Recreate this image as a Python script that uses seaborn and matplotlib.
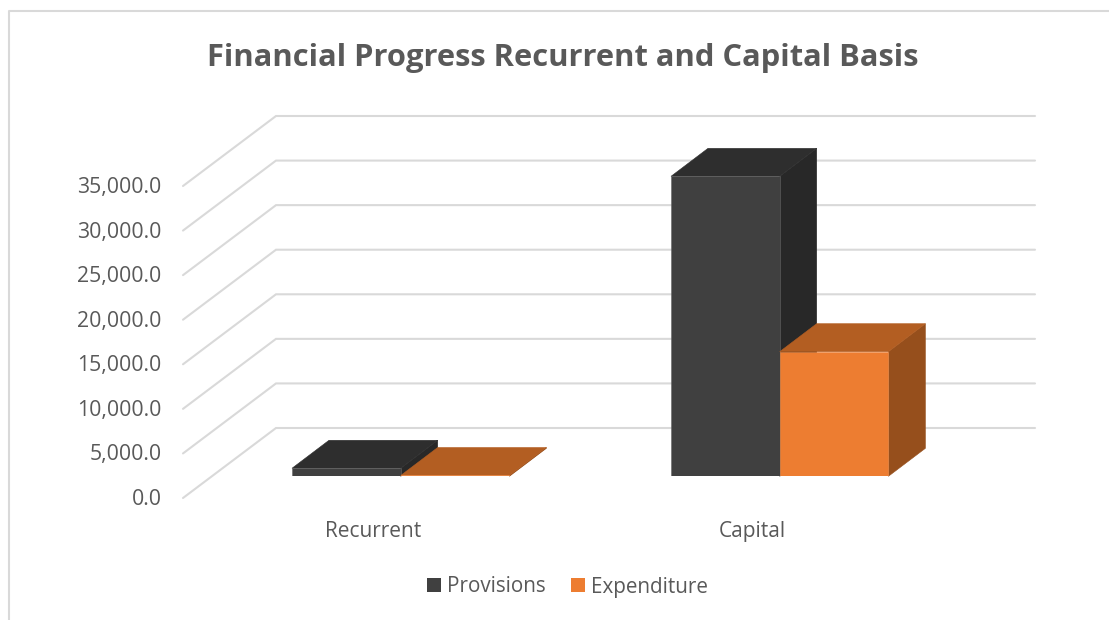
import matplotlib
matplotlib.use("Agg")
import matplotlib.pyplot as plt
from matplotlib.lines import Line2D
from matplotlib.patches import Polygon
from matplotlib.transforms import ScaledTranslation
import pandas as pd
import seaborn as sns

categories = ["Recurrent", "Capital"]
series_names = ["Provisions", "Expenditure"]
provisions = [900, 33650]
expenditure = [90, 13980]
y_ticks = [0, 5000, 10000, 15000, 20000, 25000, 30000, 35000]

W, H = 1109, 620
TEXT = "#595959"
GRID = "#D9D9D9"
FRONT = {"Provisions": "#404040", "Expenditure": "#ED7D31"}
EDGE = {"Provisions": "#666666", "Expenditure": "#EF8C48"}
TOP = {"Provisions": "#2E2E2E", "Expenditure": "#B35E22"}
SIDE = {"Provisions": "#282828", "Expenditure": "#964F1C"}

sns.set_theme(style="white")
plt.rcParams["font.family"] = ["Open Sans", "DejaVu Sans"]

fig = plt.figure(figsize=(W / 100, H / 100), dpi=100, facecolor="white")


def axes_px(left, right, top, bottom):
    return fig.add_axes([left / W, 1 - bottom / H, (right - left) / W, (bottom - top) / H])


# Wall axes: value axis and the perspective gridlines
wall = axes_px(183, 1035, 186, 498)
wall.set_xlim(0, 1)
wall.set_ylim(0, 35000)
wall.set_xticks([])
wall.set_yticks(y_ticks)
wall.set_yticklabels([f"{v:,.1f}" for v in y_ticks], color=TEXT, fontsize=15.3)
wall.tick_params(axis="y", length=0, pad=15.5)
for lab in wall.get_yticklabels():
    lab.set_transform(lab.get_transform() + ScaledTranslation(0, 1 / 100, fig.dpi_scale_trans))
sns.despine(ax=wall, left=True, bottom=True)
wall.patch.set_visible(False)
WALL_DX = 93 / 852
WALL_DY = 70 / 312 * 35000
for v in y_ticks:
    wall.plot([0, WALL_DX, 1], [v, v + WALL_DY, v + WALL_DY], color=GRID, lw=1.5,
              clip_on=False, zorder=1, solid_joinstyle="miter")

# Bar axes: front plane of the bars
bars = axes_px(183, 1035, 164.3, 476.3)
df = pd.DataFrame({
    "category": categories * 2,
    "series": [series_names[0]] * 2 + [series_names[1]] * 2,
    "value": provisions + expenditure,
})
sns.barplot(data=df, x="category", y="value", hue="series", hue_order=series_names,
            palette=FRONT, width=108.7 * 2 / 379, gap=0, saturation=1, errorbar=None,
            ax=bars, linewidth=0)
bars.set_xlim((183 - 400.7) / 379, (1035 - 400.7) / 379)
bars.set_ylim(0, 35000)
bars.set_yticks([])
bars.set_xlabel("")
bars.set_ylabel("")
bars.patch.set_visible(False)
sns.despine(ax=bars, left=True, bottom=True)
bars.tick_params(axis="x", length=0, pad=32.5, labelsize=15, labelcolor=TEXT)
for lab in bars.get_xticklabels():
    lab.set_transform(lab.get_transform() + ScaledTranslation(-27.5 / 100, 0, fig.dpi_scale_trans))

DX = 37 / 379
DY = 28 / 312 * 35000
for i, (name, container) in enumerate(zip(series_names, bars.containers)):
    z = 2 + 2 * i
    for rect in container:
        rect.set_zorder(z + 1)
        rect.set_edgecolor(EDGE[name])
        rect.set_linewidth(0.4)
        x0, w, h = rect.get_x(), rect.get_width(), rect.get_height()
        x1 = x0 + w
        top = Polygon([(x0, h), (x1, h), (x1 + DX, h + DY), (x0 + DX, h + DY)],
                      closed=True, facecolor=TOP[name], edgecolor=TOP[name], lw=0.4,
                      zorder=z, clip_on=False)
        side = Polygon([(x1, 0), (x1 + DX, DY), (x1 + DX, h + DY), (x1, h)],
                       closed=True, facecolor=SIDE[name], edgecolor=SIDE[name], lw=0.4,
                       zorder=z, clip_on=False)
        bars.add_patch(side)
        bars.add_patch(top)

leg = bars.legend(loc="center", bbox_to_anchor=(567.5 / W, 1 - 587 / H),
                  bbox_transform=fig.transFigure, ncol=2, frameon=False, fontsize=14.9,
                  labelcolor=TEXT, handlelength=0.68, handleheight=0.68, handletextpad=0.29,
                  columnspacing=1.2, borderpad=0, borderaxespad=0)
for handle in leg.legend_handles:
    handle.set_edgecolor("none")

fig.text(563 / W, 1 - 58 / H, "Financial Progress Recurrent and Capital Basis", ha="center",
         va="center", fontsize=22.25, fontweight="bold", color=TEXT)

# Chart frame
fig.add_artist(Line2D([8.5 / W, 8.5 / W, 1], [0, 1 - 11 / H, 1 - 11 / H], color=GRID, lw=1.5))

fig.savefig("out.png", dpi=100, facecolor="white")
